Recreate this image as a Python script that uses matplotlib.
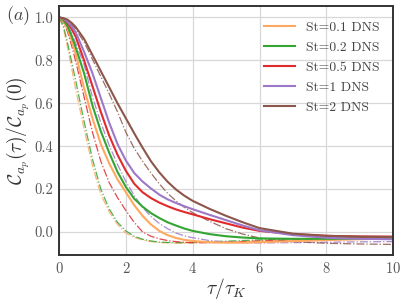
import numpy as np
import matplotlib
matplotlib.use("Agg")
import matplotlib.pyplot as plt

plt.rcParams['font.family'] = 'serif'
plt.rcParams['font.serif'] = ['cmr10']
plt.rcParams['mathtext.fontset'] = 'cm'
plt.rcParams['axes.formatter.use_mathtext'] = True

# tau / tau_K sample points
tau = [0, 0.125, 0.25, 0.375, 0.5, 0.75, 1.0, 1.25, 1.5, 1.75, 2.0, 2.25, 2.5, 2.75, 3.0, 3.25, 3.5, 3.75, 4.0,
       4.5, 5.0, 5.5, 6.0, 7.0, 8.0, 9.0, 10.0]

st_labels = ['St=0.1 DNS', 'St=0.2 DNS', 'St=0.5 DNS', 'St=1 DNS', 'St=2 DNS']
colors = ['#ffa860', '#33a533', '#e02a2c', '#9d78c8', '#8c564b']

# DNS curves (solid)
dns_01 = [1, 0.985, 0.95, 0.895, 0.83, 0.67, 0.53, 0.41, 0.32, 0.245, 0.185, 0.125, 0.075, 0.035, 0.005, -0.015, -0.028, -0.037, -0.042,
          -0.048, -0.05, -0.05, -0.048, -0.043, -0.038, -0.034, -0.03]
dns_02 = [1, 0.99, 0.96, 0.915, 0.86, 0.74, 0.59, 0.47, 0.37, 0.28, 0.21, 0.155, 0.118, 0.088, 0.065, 0.045, 0.03, 0.016, 0.005,
          -0.01, -0.02, -0.026, -0.03, -0.032, -0.032, -0.031, -0.03]
dns_05 = [1, 0.995, 0.975, 0.947, 0.91, 0.80, 0.68, 0.56, 0.45, 0.36, 0.285, 0.225, 0.185, 0.158, 0.137, 0.12, 0.105, 0.093, 0.082,
          0.06, 0.04, 0.02, 0.005, -0.01, -0.018, -0.021, -0.022]
dns_1 = [1, 0.995, 0.98, 0.959, 0.93, 0.84, 0.74, 0.625, 0.51, 0.41, 0.333, 0.275, 0.235, 0.203, 0.174, 0.152, 0.135, 0.12, 0.106,
         0.08, 0.055, 0.03, 0.008, -0.015, -0.027, -0.032, -0.034]
dns_2 = [1, 0.997, 0.99, 0.975, 0.955, 0.90, 0.825, 0.75, 0.675, 0.60, 0.53, 0.46, 0.393, 0.33, 0.278, 0.234, 0.198, 0.169, 0.145,
         0.108, 0.075, 0.045, 0.018, -0.008, -0.018, -0.022, -0.023]

# model curves (dash-dot)
mod_01 = [1, 0.955, 0.865, 0.765, 0.665, 0.48, 0.31, 0.175, 0.095, 0.035, -0.005, -0.025, -0.037, -0.045, -0.049, -0.051, -0.052, -0.052, -0.051,
          -0.049, -0.047, -0.045, -0.043, -0.039, -0.035, -0.032, -0.03]
mod_02 = [1, 0.965, 0.885, 0.795, 0.705, 0.515, 0.34, 0.2, 0.108, 0.045, 0.005, -0.02, -0.034, -0.042, -0.047, -0.049, -0.05, -0.05, -0.049,
          -0.046, -0.043, -0.04, -0.037, -0.032, -0.029, -0.027, -0.025]
mod_05 = [1, 0.98, 0.935, 0.87, 0.795, 0.63, 0.465, 0.33, 0.23, 0.16, 0.10, 0.045, 0.0, -0.02, -0.032, -0.04, -0.045, -0.048, -0.05,
          -0.05, -0.048, -0.045, -0.042, -0.037, -0.032, -0.028, -0.025]
mod_1 = [1, 0.99, 0.965, 0.927, 0.88, 0.78, 0.63, 0.51, 0.405, 0.315, 0.235, 0.17, 0.115, 0.072, 0.04, 0.015, -0.005, -0.018, -0.027,
         -0.04, -0.047, -0.05, -0.051, -0.05, -0.048, -0.046, -0.045]
mod_2 = [1, 0.997, 0.985, 0.968, 0.945, 0.885, 0.805, 0.725, 0.645, 0.56, 0.465, 0.39, 0.33, 0.275, 0.225, 0.18, 0.145, 0.115, 0.09,
         0.05, 0.015, -0.01, -0.028, -0.045, -0.053, -0.056, -0.058]

dns = [dns_01, dns_02, dns_05, dns_1, dns_2]
mod = [mod_01, mod_02, mod_05, mod_1, mod_2]

fig = plt.figure(figsize=(4.07, 3.03), dpi=100)
ax = fig.add_axes([0.145, 0.158, 0.821, 0.822])

for i in range(5):
    ax.plot(tau, mod[i], '-.', color=colors[i], lw=0.9, alpha=0.85)
for i in range(5):
    ax.plot(tau, dns[i], '-', color=colors[i], lw=1.5, label=st_labels[i])

ax.set_xlim(0, 10)
ax.set_ylim(-0.108, 1.053)
ax.set_xticks([0, 2, 4, 6, 8, 10])
ax.set_yticks([0.0, 0.2, 0.4, 0.6, 0.8, 1.0])
ax.set_yticklabels(['0.0', '0.2', '0.4', '0.6', '0.8', '1.0'])
ax.grid(True, color='#d8d8d8', lw=0.9)
ax.set_axisbelow(True)
ax.tick_params(length=0, labelsize=10.5, labelcolor='#555555', pad=4)
for s in ax.spines.values():
    s.set_color('#333333')
    s.set_linewidth(1.4)

ax.set_xlabel(r'$\tau/\tau_K$', fontsize=14, color='#333333', labelpad=0)
ax.set_ylabel(r'$\mathcal{C}_{a_p}(\tau)/\mathcal{C}_{a_p}(0)$', fontsize=14, color='#333333', labelpad=2)

leg = ax.legend(loc='upper right', frameon=False, fontsize=9.8, handlelength=2.3,
                labelspacing=0.55, borderaxespad=0.7, bbox_to_anchor=(1.005, 1.0))
for t in leg.get_texts():
    t.set_color('#444444')

fig.text(0.015, 0.935, r'$(a)$', fontsize=13, color='#444444')

fig.savefig('out.png', dpi=100)
